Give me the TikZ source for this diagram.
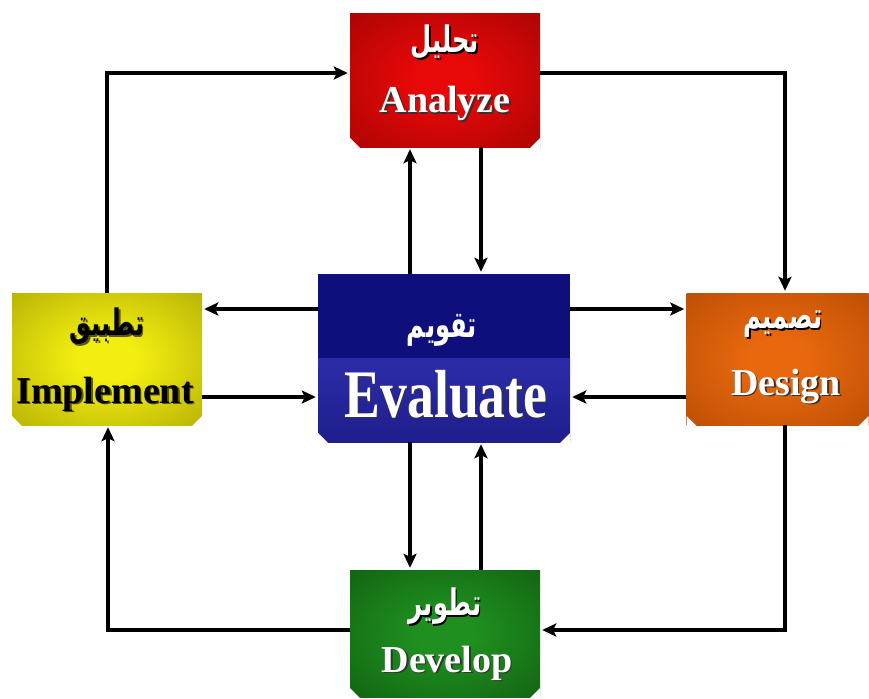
\documentclass[tikz,border=0pt]{standalone}
\usepackage{fontspec}
\usepackage{graphicx}
\setmainfont{Liberation Serif}
\newfontfamily\arabicfont[Script=Arabic]{DejaVu Sans}
\TeXXeTstate=1
\usetikzlibrary{arrows.meta}
\definecolor{boxin}{HTML}{E80808}
\definecolor{boxout}{HTML}{8E0202}
\pgfdeclareradialshading[boxin,boxout]{glow}{\pgfpoint{0bp}{0bp}}{color(0bp)=(boxin); color(8bp)=(boxin); color(50bp)=(boxout)}
\newcommand\shtx[2]{\makebox[0pt][l]{\kern1.6pt\raisebox{-1.6pt}{\textcolor{#1}{#2}}}#2}
\newcommand\ar[1]{\scalebox{0.9}[1.35]{\arabicfont\bfseries\beginR #1\endR}}
\newcommand\cutcorners{%
  \fill[white] (path picture bounding box.south west) ++(-2,2) -- ++(13,0) -- ++(-13,-13) -- cycle;
  \fill[white] (path picture bounding box.south east) ++(2,2) -- ++(-13,0) -- ++(13,-13) -- cycle;}
\tikzset{
  box/.style={rectangle, inner sep=0pt},
  chamfer/.style={path picture={\cutcorners}},
  glowfill/.style 2 args={/utils/exec={\definecolor{boxin}{HTML}{#1}\definecolor{boxout}{HTML}{#2}}, shading=glow},
  en/.style={anchor=base, inner sep=0pt, font=\bfseries\fontsize{38}{40}\selectfont},
  arl/.style={inner sep=0pt, font=\fontsize{27}{30}\selectfont},
  arr/.style={line width=4pt, -{Stealth[length=14pt,width=13pt,inset=3pt]}, shorten >=2pt},
}
\begin{document}
\begin{tikzpicture}[x=1pt,y=-1pt]
\useasboundingbox (0,0) rectangle (869,698);
% boxes
\node[box, chamfer, glowfill={E80808}{8E0202}, minimum width=190pt, minimum height=133pt] (A) at (445,80.5) {};
\node[box, chamfer, glowfill={F2EE10}{9C9600}, minimum width=190pt, minimum height=132pt] (I) at (107,359) {};
\node[box, chamfer, glowfill={E8680E}{A84200}, minimum width=182pt, minimum height=132pt] (D) at (777.5,359) {};
\node[box, chamfer, glowfill={1F8F1F}{0B4F0B}, minimum width=190pt, minimum height=127pt] (V) at (445,633.5) {};
\node[box, fill={rgb,255:red,14;green,14;blue,124}, minimum width=252pt, minimum height=168pt,
  path picture={\shade[top color={rgb,255:red,58;green,58;blue,200}, bottom color={rgb,255:red,30;green,30;blue,140}]
    (path picture bounding box.south west) rectangle (path picture bounding box.east);\cutcorners}] (E) at (444,358) {};
% labels
\node[arl, text=white] (Aar) at (445,43) {\shtx{black}{\ar{تحليل}}};
\node[en, text=white] (Aen) at (445,113) {\shtx{black!80}{Analyze}};
\node[arl, text=white] (Ear) at (442,330) {\ar{تقويم}};
\node[en, text=white, font=\bfseries\fontsize{68}{70}\selectfont] (Een) at (446,417) {\scalebox{0.79}[1]{\shtx{black!80}{Evaluate}}};
\node[arl, text=black] (Iar) at (107,327) {\shtx{black!50!olive}{\ar{تطبيق}}};
\node[en, text=black] (Ien) at (105,403) {\shtx{black!50!olive}{Implement}};
\node[arl, text=white] (Dar) at (783,325) {\shtx{black}{\ar{تصميم}}};
\node[en, text=white] (Den) at (786,395) {\shtx{black!80}{Design}};
\node[arl, text=white] (Var) at (445,607) {\shtx{black}{\ar{تطوير}}};
\node[en, text=white] (Ven) at (447,672) {\shtx{black!80}{Develop}};
% outer cycle
\draw[arr] (I.north) |- (A.west |- 0,73);
\draw[arr] (A.east |- 0,73) -| (785,0 |- D.north);
\draw[arr] (785,0 |- D.south) |- (V.east |- 0,630);
\draw[arr] (V.west |- 0,630) -| (108,0 |- I.south);
% centre links
\draw[arr] (410,0 |- E.north) -- (410,0 |- A.south);
\draw[arr] (481,0 |- A.south) -- (481,0 |- E.north);
\draw[arr] (410,0 |- E.south) -- (410,0 |- V.north);
\draw[arr] (481,0 |- V.north) -- (481,0 |- E.south);
\draw[arr] (E.west |- 0,309) -- (I.east |- 0,309);
\draw[arr] (I.east |- 0,397) -- (E.west |- 0,397);
\draw[arr] (E.east |- 0,309) -- (D.west |- 0,309);
\draw[arr] (D.west |- 0,397) -- (E.east |- 0,397);
\end{tikzpicture}
\end{document}
